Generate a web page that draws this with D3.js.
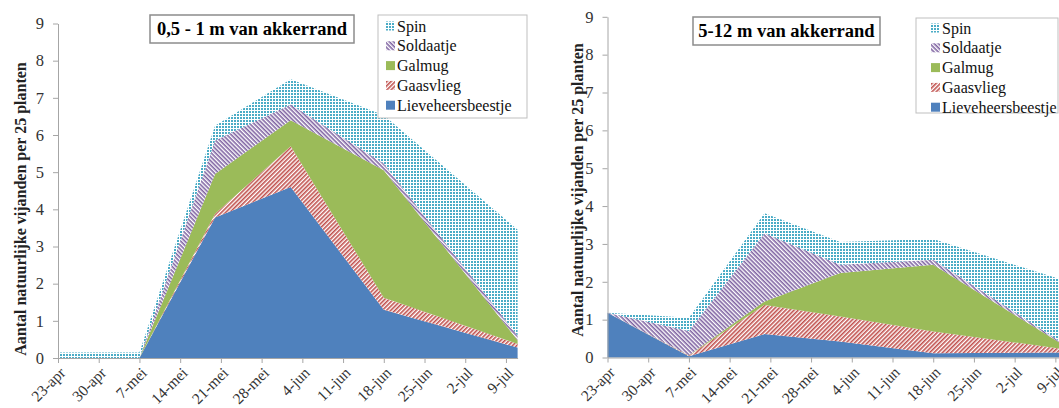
<!DOCTYPE html>
<html>
<head>
<meta charset="utf-8">
<script src="https://cdn.jsdelivr.net/npm/d3@7"></script>
<style>
  html, body { margin: 0; padding: 0; background: #fff; }
  svg { display: block; }
  svg text { font-family: "Liberation Serif", "Times New Roman", "DejaVu Serif", serif; }
</style>
</head>
<body>
<svg id="chart" width="1059" height="408"></svg>
<script>
// Sampling dates (shared by both panels) and the weekly axis labels
const sampleDates = ["23-apr", "7-mei", "20-mei", "2-jun", "18-jun", "11-jul"];
const weekTicks = ["23-apr", "30-apr", "7-mei", "14-mei", "21-mei", "28-mei",
                   "4-jun", "11-jun", "18-jun", "25-jun", "2-jul", "9-jul"];
const yTicks = [0, 1, 2, 3, 4, 5, 6, 7, 8, 9];

// Stack order, bottom to top
const seriesNames = ["Lieveheersbeestje", "Gaasvlieg", "Galmug", "Soldaatje", "Spin"];

// 0,5 - 1 m van akkerrand
const nearTitle = "0,5 - 1 m van akkerrand";
const nearLieveheersbeestje = [0, 0, 3.78, 4.6, 1.3, 0.28];
const nearGaasvlieg         = [0, 0, 0.1, 1.1, 0.32, 0.1];
const nearGalmug            = [0, 0, 1.07, 0.7, 3.43, 0.1];
const nearSoldaatje         = [0, 0, 0.9, 0.42, 0.18, 0.12];
const nearSpin              = [0.15, 0.15, 0.4, 0.68, 1.3, 2.85];

// 5-12 m van akkerrand
const farTitle = "5-12 m van akkerrand";
const farLieveheersbeestje = [1.18, 0.03, 0.62, 0.42, 0.11, 0.13];
const farGaasvlieg         = [0, 0.02, 0.77, 0.66, 0.58, 0.08];
const farGalmug            = [0, 0.01, 0.09, 1.15, 1.76, 0.06];
const farSoldaatje         = [0, 0.64, 1.8, 0.22, 0.13, 0.04];
const farSpin              = [0, 0.35, 0.53, 0.6, 0.55, 1.7];

const yLabel = "Aantal natuurlijke vijanden per 25 planten";

// ---------------------------------------------------------------------------
const monthIndex = { apr: 3, mei: 4, jun: 5, jul: 6 };
function parseDutch(s) {
  const [d, m] = s.split("-");
  return new Date(2013, monthIndex[m], +d);
}

const svg = d3.select("#chart");
const defs = svg.append("defs");

// Fill patterns
const pSpin = defs.append("pattern").attr("id", "pat-spin")
  .attr("patternUnits", "userSpaceOnUse").attr("width", 3).attr("height", 3);
pSpin.append("rect").attr("width", 3).attr("height", 3).attr("fill", "#fff");
pSpin.append("rect").attr("width", 2).attr("height", 2).attr("fill", "#4bacc6");

// Soldaatje: "\\\" hatching
const pSold = defs.append("pattern").attr("id", "pat-sold")
  .attr("patternUnits", "userSpaceOnUse").attr("width", 3).attr("height", 3)
  .attr("patternTransform", "rotate(45)");
pSold.append("rect").attr("width", 3).attr("height", 3).attr("fill", "#fff");
pSold.append("rect").attr("width", 3).attr("height", 1.6).attr("fill", "#8064a2");

// Gaasvlieg: "///" hatching
const pGaas = defs.append("pattern").attr("id", "pat-gaas")
  .attr("patternUnits", "userSpaceOnUse").attr("width", 3).attr("height", 3)
  .attr("patternTransform", "rotate(-45)");
pGaas.append("rect").attr("width", 3).attr("height", 3).attr("fill", "#fff");
pGaas.append("rect").attr("width", 3).attr("height", 1.6).attr("fill", "#c0504d");

const fills = {
  Lieveheersbeestje: "#4f81bd",
  Gaasvlieg: "url(#pat-gaas)",
  Galmug: "#9bbb59",
  Soldaatje: "url(#pat-sold)",
  Spin: "url(#pat-spin)"
};

function drawPanel(cfg) {
  const rows = sampleDates.map((s, i) => {
    const r = { date: parseDutch(s) };
    seriesNames.forEach(n => { r[n] = cfg.values[n][i]; });
    return r;
  });
  const stacked = d3.stack().keys(seriesNames)(rows);

  const x = d3.scaleTime()
    .domain([parseDutch("23-apr"), parseDutch("11-jul")])
    .range([cfg.left, cfg.right]);
  const y = d3.scaleLinear().domain([0, 9]).range([cfg.bottom, cfg.top]);

  const g = svg.append("g");

  const area = d3.area()
    .x(d => x(d.data.date))
    .y0(d => y(d[0]))
    .y1(d => y(d[1]));

  g.selectAll("path.layer").data(stacked).join("path")
    .attr("class", "layer")
    .attr("d", area)
    .attr("fill", d => fills[d.key]);

  // x axis
  const xAxis = g.append("g")
    .attr("transform", `translate(0,${cfg.bottom})`)
    .call(d3.axisBottom(x)
      .tickValues(weekTicks.map(parseDutch))
      .tickFormat((d, i) => weekTicks[i])
      .tickSize(5).tickSizeOuter(0));
  xAxis.attr("font-family", null);
  xAxis.select(".domain").attr("stroke", "#a6a6a6");
  xAxis.selectAll(".tick line").attr("stroke", "#a6a6a6");
  xAxis.selectAll(".tick text")
    .attr("x", 0).attr("y", 0).attr("dy", "0.35em")
    .attr("text-anchor", "end")
    .attr("transform", "translate(4,12) rotate(-45)")
    .attr("font-size", 15.5)
    .attr("fill", "#333");

  // y axis
  const yAxis = g.append("g")
    .attr("transform", `translate(${cfg.left},0)`)
    .call(d3.axisLeft(y).tickValues(yTicks).tickSize(5).tickSizeOuter(0).tickPadding(9));
  yAxis.attr("font-family", null);
  yAxis.select(".domain").attr("stroke", "#a6a6a6");
  yAxis.selectAll(".tick line").attr("stroke", "#a6a6a6");
  yAxis.selectAll(".tick text")
    .attr("font-size", 16.5)
    .attr("fill", "#333");

  // y axis title
  g.append("text")
    .attr("transform", `translate(${cfg.labelX},${cfg.labelY}) rotate(-90)`)
    .attr("text-anchor", "middle")
    .attr("dominant-baseline", "central")
    .attr("font-weight", "bold")
    .attr("font-size", 16)
    .attr("fill", "#222")
    .text(yLabel);

  // boxed title
  const tg = g.append("g");
  tg.append("rect")
    .attr("x", cfg.titleBox[0]).attr("y", cfg.titleBox[1])
    .attr("width", cfg.titleBox[2]).attr("height", cfg.titleBox[3])
    .attr("fill", "#fff").attr("stroke", "#8c8c8c").attr("stroke-width", 1.5);
  tg.append("text")
    .attr("x", cfg.titleBox[0] + cfg.titleBox[2] / 2)
    .attr("y", cfg.titleBox[1] + cfg.titleBox[3] / 2)
    .attr("text-anchor", "middle")
    .attr("dominant-baseline", "central")
    .attr("font-weight", "bold")
    .attr("font-size", 18.5)
    .attr("fill", "#000")
    .text(cfg.title);

  // legend (top of stack first)
  const lg = g.append("g");
  lg.append("rect")
    .attr("x", cfg.legendBox[0]).attr("y", cfg.legendBox[1])
    .attr("width", cfg.legendBox[2]).attr("height", cfg.legendBox[3])
    .attr("fill", "#fff").attr("stroke", "#bfbfbf").attr("stroke-width", 1);
  const legendOrder = seriesNames.slice().reverse();
  const items = lg.selectAll("g.item").data(legendOrder).join("g")
    .attr("class", "item")
    .attr("transform", (d, i) => `translate(${cfg.legendX},${cfg.legendY + i * 19.8})`);
  items.append("rect")
    .attr("x", 0).attr("y", -4.5).attr("width", 9).attr("height", 9)
    .attr("fill", d => fills[d]);
  items.append("text")
    .attr("x", 11).attr("y", 0)
    .attr("dominant-baseline", "central")
    .attr("font-size", 16)
    .attr("fill", "#111")
    .text(d => d);
}

drawPanel({
  title: nearTitle,
  values: {
    Lieveheersbeestje: nearLieveheersbeestje, Gaasvlieg: nearGaasvlieg,
    Galmug: nearGalmug, Soldaatje: nearSoldaatje, Spin: nearSpin
  },
  left: 58, right: 517.6, top: 23.5, bottom: 358,
  labelX: 20, labelY: 209,
  titleBox: [150, 15, 204, 28],
  legendBox: [378, 15, 149, 103],
  legendX: 386, legendY: 26
});

drawPanel({
  title: farTitle,
  values: {
    Lieveheersbeestje: farLieveheersbeestje, Gaasvlieg: farGaasvlieg,
    Galmug: farGalmug, Soldaatje: farSoldaatje, Spin: farSpin
  },
  left: 607.5, right: 1067, top: 16.8, bottom: 357.5,
  labelX: 577, labelY: 190,
  titleBox: [693, 17, 187, 28],
  legendBox: [916, 18, 142, 95],
  legendX: 931, legendY: 28
});
</script>
</body>
</html>
